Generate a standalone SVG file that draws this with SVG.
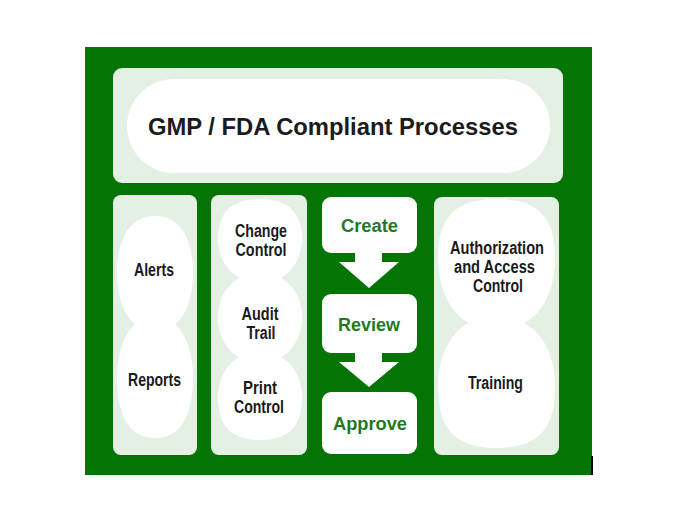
<svg xmlns="http://www.w3.org/2000/svg" width="676" height="525" viewBox="0 0 676 525">
<defs>
<style>
.panel{fill:#e4f0e3;}
.blob{fill:#ffffff;}
.box{fill:#ffffff;}
.t{font-family:"Liberation Sans",Arial,sans-serif;font-weight:bold;font-size:18px;fill:#1b1b1b;text-anchor:middle;}
.g{font-family:"Liberation Sans",Arial,sans-serif;font-weight:bold;font-size:18px;fill:#1f7a1f;text-anchor:middle;}
.arrow{fill:#ffffff;}
</style>
</defs>
<rect x="0" y="0" width="676" height="525" fill="#ffffff"/>
<rect x="85" y="47" width="507" height="428" fill="#047404"/>
<rect x="591" y="456" width="2" height="19" fill="#000000"/>

<g id="top">
<rect class="panel" x="113" y="68" width="450" height="115" rx="9"/>
<rect class="box" x="127" y="79" width="423" height="94" rx="47"/>
<text class="t" x="333" y="135" style="font-size:24px" textLength="370" lengthAdjust="spacingAndGlyphs">GMP / FDA Compliant Processes</text>
</g>

<g id="panel1">
<rect class="panel" x="113" y="195" width="84" height="260" rx="8"/>
</g>
<g id="alerts">
<path class="blob" d="M155,216 C184,216 193,246 193,272 C193,306 180,332 155,332 C130,332 117,306 117,272 C117,246 126,216 155,216 Z"/>
<text class="t" x="154" y="276" textLength="40" lengthAdjust="spacingAndGlyphs">Alerts</text>
</g>
<g id="reports">
<path class="blob" d="M155,316 C180,316 193,346 193,377 C193,410 184,438 155,438 C126,438 117,410 117,377 C117,346 130,316 155,316 Z"/>
<text class="t" x="154.5" y="386" textLength="53" lengthAdjust="spacingAndGlyphs">Reports</text>
</g>

<g id="panel2">
<rect class="panel" x="211" y="195" width="96" height="260" rx="8"/>
</g>
<g id="change-control">
<path class="blob" d="M260,199 C293,199 302,218 302,238 C302,264 285,283 260,283 C235,283 218,264 218,238 C218,218 227,199 260,199 Z"/>
<text class="t" x="261" y="237" textLength="52" lengthAdjust="spacingAndGlyphs">Change</text>
<text class="t" x="261" y="256" textLength="51" lengthAdjust="spacingAndGlyphs">Control</text>
</g>
<g id="audit-trail">
<path class="blob" d="M260,273 C288,273 302,295 302,317 C302,341 288,362 260,362 C232,362 218,341 218,317 C218,295 232,273 260,273 Z"/>
<text class="t" x="260" y="320" textLength="37" lengthAdjust="spacingAndGlyphs">Audit</text>
<text class="t" x="261" y="339" textLength="29" lengthAdjust="spacingAndGlyphs">Trail</text>
</g>
<g id="print-control">
<path class="blob" d="M260,352 C288,352 302,374 302,396 C302,422 293,440 260,440 C227,440 218,422 218,396 C218,374 232,352 260,352 Z"/>
<text class="t" x="260" y="394" textLength="34" lengthAdjust="spacingAndGlyphs">Print</text>
<text class="t" x="259" y="413" textLength="50" lengthAdjust="spacingAndGlyphs">Control</text>
</g>

<g id="create">
<rect class="box" x="322" y="197" width="95" height="56" rx="9"/>
<text class="g" x="369.5" y="232" textLength="57" lengthAdjust="spacingAndGlyphs">Create</text>
</g>
<g id="review">
<rect class="box" x="322" y="294" width="95" height="59" rx="9"/>
<text class="g" x="369" y="331" textLength="62" lengthAdjust="spacingAndGlyphs">Review</text>
</g>
<g id="approve">
<rect class="box" x="322" y="392" width="95" height="62" rx="9"/>
<text class="g" x="370" y="430" textLength="74" lengthAdjust="spacingAndGlyphs">Approve</text>
</g>

<g id="panel4">
<rect class="panel" x="434" y="197" width="125" height="258" rx="8"/>
</g>
<g id="authorization">
<path class="blob" d="M496.5,199 C545,199 555,225 555,258 C555,298 535,330 496.5,330 C458,330 438,298 438,258 C438,225 448,199 496.5,199 Z"/>
<text class="t" x="497" y="254" textLength="94" lengthAdjust="spacingAndGlyphs">Authorization</text>
<text class="t" x="494.5" y="273" textLength="81" lengthAdjust="spacingAndGlyphs">and Access</text>
<text class="t" x="498" y="292" textLength="50" lengthAdjust="spacingAndGlyphs">Control</text>
</g>
<g id="training">
<path class="blob" d="M496.5,316 C535,316 555,348 555,385 C555,422 545,448 496.5,448 C448,448 438,422 438,385 C438,348 458,316 496.5,316 Z"/>
<text class="t" x="495.5" y="389" textLength="55" lengthAdjust="spacingAndGlyphs">Training</text>
</g>

<g id="connectors">
<path class="arrow" d="M355,252 L382,252 L382,262 L399,262 L369,288 L339,262 L355,262 Z"/>
<path class="arrow" d="M355,352 L382,352 L382,362 L399,362 L369,387 L339,362 L355,362 Z"/>
</g>
</svg>
